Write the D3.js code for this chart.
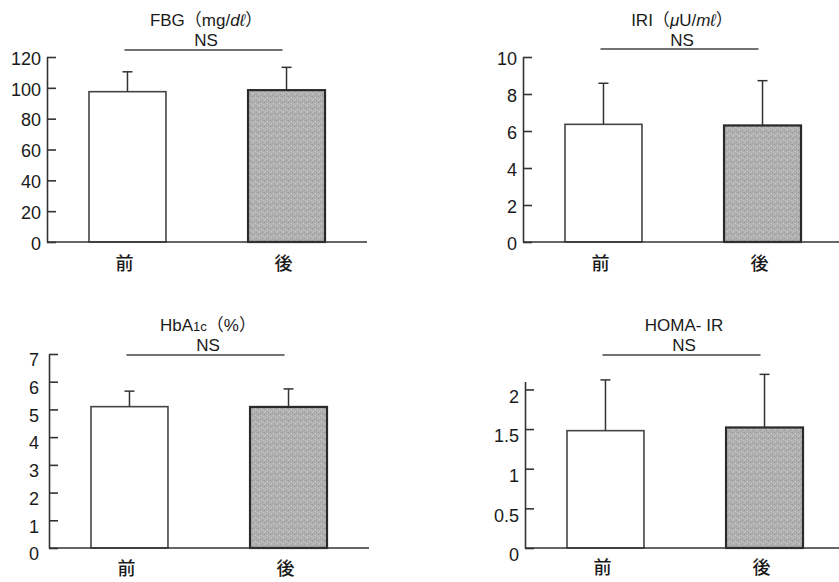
<!DOCTYPE html>
<html>
<head>
<meta charset="utf-8">
<script src="https://cdn.jsdelivr.net/npm/d3@7"></script>
<style>
  body { margin: 0; background: #fff; }
  svg { display: block; }
  text { font-family: "Liberation Sans", Arial, "Noto Sans CJK JP", sans-serif; fill: #1a1a1a; }
  .cat { font-family: "Noto Sans CJK JP", sans-serif; font-size: 18px; font-weight: 500; }
</style>
</head>
<body>
<svg id="chart" width="839" height="582"></svg>
<script>
// groups (before / after)
var groups = ['前', '後'];

// panel values: mean and SD
var fbgMean = [97.5, 98.5];
var fbgSD = [12.9, 14.8];
var iriMean = [6.36, 6.3];
var iriSD = [2.22, 2.42];
var hbMean = [5.1, 5.09];
var hbSD = [0.56, 0.65];
var homaMean = [1.48, 1.52];
var homaSD = [0.64, 0.67];

// tick labels
var fbgTicks = [0, 20, 40, 60, 80, 100, 120];
var iriTicks = [0, 2, 4, 6, 8, 10];
var hbTicks = [0, 1, 2, 3, 4, 5, 6, 7];
var homaTicks = [0, 0.5, 1, 1.5, 2];

var sigLabel = 'NS';

var svg = d3.select('#chart');

// grey speckled fill for the "after" bar
var defs = svg.append('defs');
var pat = defs.append('pattern')
    .attr('id', 'speckle')
    .attr('patternUnits', 'userSpaceOnUse')
    .attr('width', 6).attr('height', 6);
pat.append('rect').attr('width', 6).attr('height', 6).attr('fill', '#b0b0b0');
[[0, 0, '#959595'], [3, 1, '#d0d0d0'], [1, 3, '#cbcbcb'], [4, 4, '#9c9c9c'],
 [2, 5, '#a2a2a2'], [5, 2, '#c4c4c4'], [0, 4, '#c0c0c0'], [4, 0, '#a4a4a4']].forEach(function (p) {
  pat.append('rect').attr('x', p[0]).attr('y', p[1]).attr('width', 1).attr('height', 1).attr('fill', p[2]);
});

var panels = [
  { title: 'fbg', mean: fbgMean, sd: fbgSD, ticks: fbgTicks, max: 120,
    left: 47, top: 57, bottom: 242, labelDy: 1.5, pad: 6, titleY: 26, nsY: 46, lineY: 50, catY: 270 },
  { title: 'iri', mean: iriMean, sd: iriSD, ticks: iriTicks, max: 10,
    left: 523, top: 57, bottom: 242, labelDy: 1.5, pad: 6, titleY: 26, nsY: 46, lineY: 49, catY: 270 },
  { title: 'hb', mean: hbMean, sd: hbSD, ticks: hbTicks, max: 7,
    left: 49, top: 354, bottom: 548, labelDy: 6, pad: 10, titleY: 331, nsY: 351, lineY: 355, catY: 575 },
  { title: 'homa', mean: homaMean, sd: homaSD, ticks: homaTicks, max: 2.1,
    left: 525, top: 381.5, bottom: 548, labelDy: 7, pad: 6, titleY: 331, nsY: 351, lineY: 355, catY: 574 }
];

function drawTitle(sel, key) {
  if (key === 'fbg') {
    sel.append('tspan').text('FBG（mg/');
    sel.append('tspan').attr('font-style', 'italic').text('dℓ');
    sel.append('tspan').text('）');
  } else if (key === 'iri') {
    sel.append('tspan').text('IRI（');
    sel.append('tspan').attr('font-style', 'italic').text('μ');
    sel.append('tspan').text('U/');
    sel.append('tspan').attr('font-style', 'italic').text('mℓ');
    sel.append('tspan').text('）');
  } else if (key === 'hb') {
    sel.append('tspan').text('HbA');
    sel.append('tspan').attr('font-size', '13px').text('1c');
    sel.append('tspan').text('（%）');
  } else {
    sel.append('tspan').text('HOMA- IR');
  }
}

panels.forEach(function (p) {
  var g = svg.append('g');

  var x = d3.scaleBand()
      .domain(groups)
      .range([p.left, p.left + 320])
      .paddingInner(0.516)
      .paddingOuter(0.264);

  var y = d3.scaleLinear()
      .domain([0, p.max])
      .range([p.bottom, p.top]);

  // y axis with inward ticks
  var yAxis = d3.axisLeft(y)
      .tickValues(p.ticks)
      .tickFormat(function (d) { return String(d); })
      .tickSize(-9)
      .tickSizeOuter(0)
      .tickPadding(p.pad);

  var ax = g.append('g')
      .attr('transform', 'translate(' + p.left + ',0)')
      .call(yAxis);
  ax.select('.domain').attr('stroke', '#333').attr('stroke-width', 1.6);
  ax.selectAll('.tick line').attr('stroke', '#333').attr('stroke-width', 1.6);
  ax.selectAll('.tick text')
      .attr('font-size', '18px')
      .attr('fill', '#1a1a1a')
      .attr('dy', function () { return (0.32 * 18 + p.labelDy) + 'px'; });

  // bars
  var rows = groups.map(function (k, i) { return { key: k, mean: p.mean[i], sd: p.sd[i], i: i }; });

  g.selectAll('rect.bar')
    .data(rows)
    .enter().append('rect')
      .attr('class', 'bar')
      .attr('x', function (d) { return x(d.key); })
      .attr('width', x.bandwidth())
      .attr('y', function (d) { return y(d.mean); })
      .attr('height', function (d) { return y(0) - y(d.mean); })
      .attr('fill', function (d) { return d.i === 0 ? '#fff' : 'url(#speckle)'; })
      .attr('stroke', function (d) { return d.i === 0 ? '#444' : '#2a2a2a'; })
      .attr('stroke-width', function (d) { return d.i === 0 ? 1.6 : 2.2; });

  // error bars (upper only)
  var err = g.selectAll('g.err')
    .data(rows)
    .enter().append('g')
      .attr('class', 'err');
  err.append('line')
      .attr('x1', function (d) { return x(d.key) + x.bandwidth() / 2; })
      .attr('x2', function (d) { return x(d.key) + x.bandwidth() / 2; })
      .attr('y1', function (d) { return y(d.mean); })
      .attr('y2', function (d) { return y(d.mean + d.sd); })
      .attr('stroke', '#333').attr('stroke-width', 1.5);
  err.append('line')
      .attr('x1', function (d) { return x(d.key) + x.bandwidth() / 2 - 5; })
      .attr('x2', function (d) { return x(d.key) + x.bandwidth() / 2 + 5; })
      .attr('y1', function (d) { return y(d.mean + d.sd); })
      .attr('y2', function (d) { return y(d.mean + d.sd); })
      .attr('stroke', '#333').attr('stroke-width', 1.5);

  // baseline
  g.append('line')
      .attr('x1', p.left).attr('x2', p.left + 320)
      .attr('y1', y(0)).attr('y2', y(0))
      .attr('stroke', '#333').attr('stroke-width', 1.6);

  // category labels
  g.selectAll('text.cat')
    .data(groups)
    .enter().append('text')
      .attr('class', 'cat')
      .attr('x', function (d) { return x(d) + x.bandwidth() / 2 - 3; })
      .attr('y', p.catY)
      .attr('text-anchor', 'middle')
      .text(function (d) { return d; });

  // title, NS and bracket line
  var c1 = x(groups[0]) + x.bandwidth() / 2;
  var c2 = x(groups[1]) + x.bandwidth() / 2;
  var mid = (c1 + c2) / 2 - 1;

  var t = g.append('text')
      .attr('x', mid)
      .attr('y', p.titleY)
      .attr('text-anchor', 'middle')
      .attr('font-size', '17px');
  drawTitle(t, p.title);

  g.append('text')
      .attr('x', mid)
      .attr('y', p.nsY)
      .attr('text-anchor', 'middle')
      .attr('font-size', '17px')
      .text(sigLabel);

  g.append('line')
      .attr('x1', c1 - 3).attr('x2', c2 - 4)
      .attr('y1', p.lineY).attr('y2', p.lineY)
      .attr('stroke', '#444').attr('stroke-width', 1.6);
});
</script>
</body>
</html>
